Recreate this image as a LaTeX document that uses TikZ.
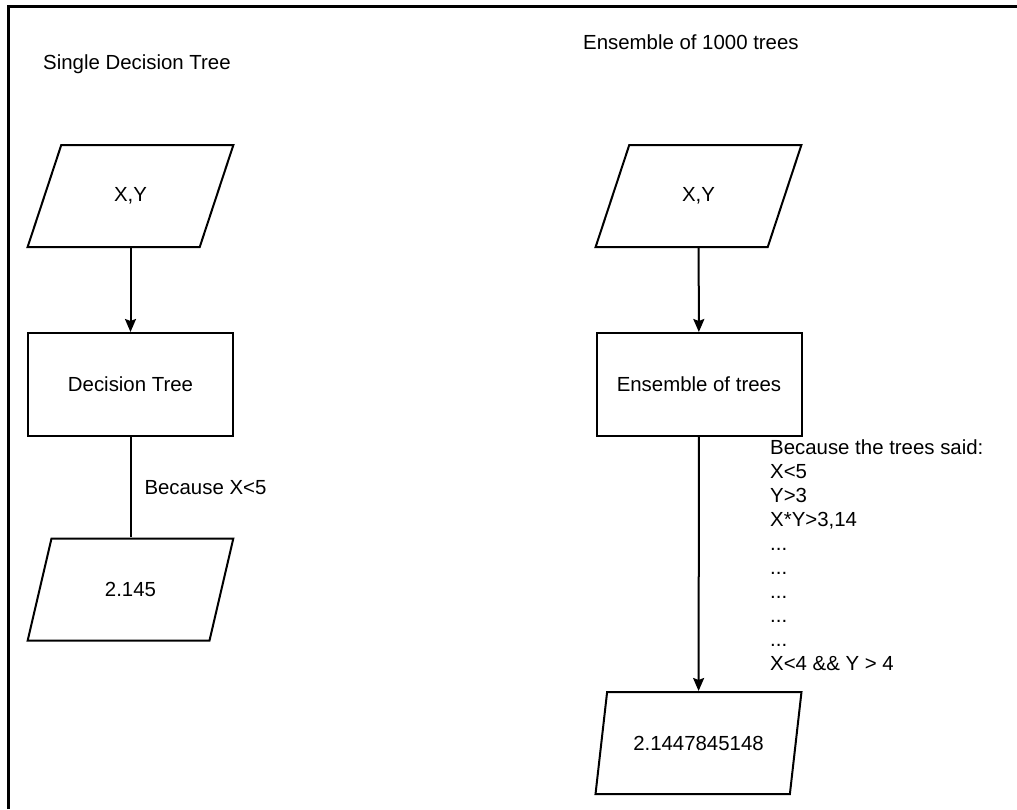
\documentclass[tikz,border=0pt]{standalone}
\usepackage{fontspec}
\setmainfont{Liberation Sans}
\usetikzlibrary{shapes.geometric,arrows.meta}

\begin{document}
\begin{tikzpicture}[x=1pt, y=-1pt,
		every node/.style={font=\fontsize{20.4}{24}\selectfont},
		io/.style={draw, line width=2pt, shape=trapezium, trapezium left angle=67.6, trapezium right angle=112.4, trapezium stretches=true, minimum width=206pt, minimum height=102pt},
		proc/.style={draw, line width=2pt, shape=rectangle, minimum width=205pt, minimum height=103pt},
		flow/.style={line width=2pt, -{Stealth[length=13pt, width=11pt, inset=2pt]}},
		link/.style={line width=2pt}]
			\useasboundingbox (0, 0) rectangle (1017, 809);
			\draw[line width=3pt] (8, 809) -- (8, 6) -- (1017, 6);
			\node[anchor=west, inner sep=0pt](T1) at (43, 64){Single Decision Tree};
			\node[anchor=west, inner sep=0pt](T2) at (583, 42){Ensemble of 1000 trees};
			\node[io](xyL) at (130.5, 196){X,Y};
			\node[proc](dtL) at (130.5, 384.5){Decision Tree};
			\node[io](outL) at (130.5, 589.5){2.145};
			\node[io](xyR) at (698.5, 196){X,Y};
			\node[proc](enR) at (699, 384.5){Ensemble of trees};
			\node[io](outR) at (698.5, 743){2.1447845148};
			\draw[flow] (xyL) -- (dtL);
			\draw[link] (dtL) -- node[anchor=west, inner sep=0pt, xshift=13pt](whyL){Because X<5} (outL);
			\draw[flow] (xyR) -- (enR);
			\draw[flow] (enR) -- (outR);
			\node[anchor=north west, align=left, inner sep=0pt](whyR) at (770, 440){Because the trees said:\\X<5\\Y>3\\X*Y>3,14\\...\\...\\...\\...\\...\\X<4 \&\& Y > 4};
		\end{tikzpicture}
\end{document}
